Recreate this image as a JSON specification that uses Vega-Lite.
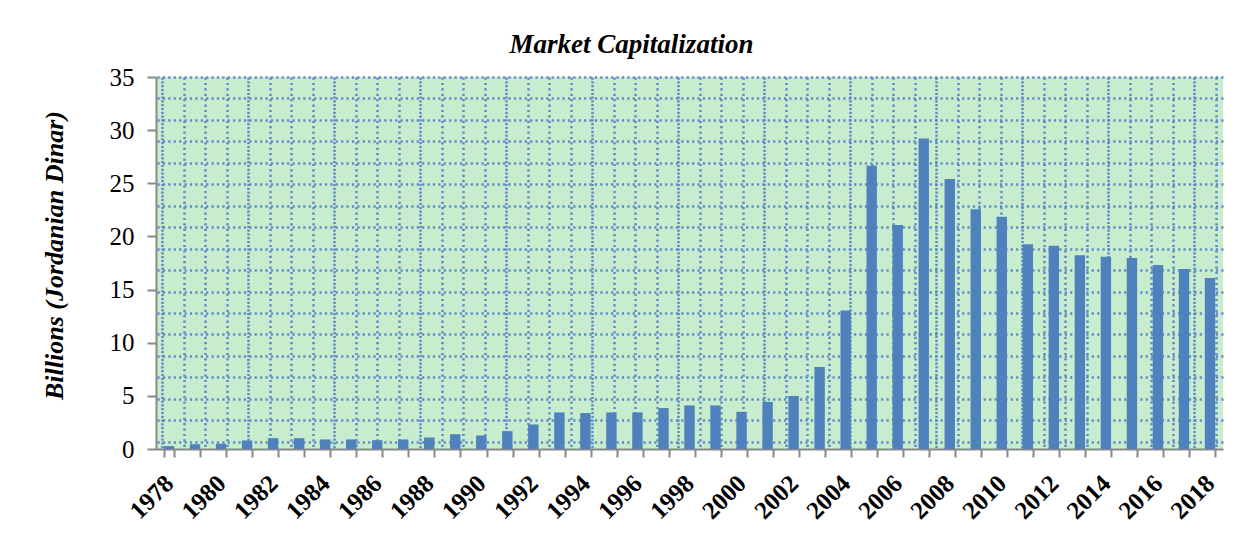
{
  "$schema": "https://vega.github.io/schema/vega-lite/v6.json",
  "autosize": {"type": "none"},
  "width": 1067,
  "height": 372,
  "padding": {"left": 156, "top": 77, "right": 26, "bottom": 91},
  "background": "white",
  "config": {
    "font": "Liberation Serif",
    "view": {"fill": "#C8EDCE", "stroke": null}
  },
  "title": {
    "text": "Market Capitalization",
    "font": "Liberation Serif",
    "fontSize": 27,
    "fontStyle": "italic",
    "fontWeight": "bold",
    "color": "black",
    "anchor": "middle",
    "frame": "group",
    "dx": -58,
    "dy": 40,
    "baseline": "alphabetic",
    "offset": 25
  },
  "data": {
    "values": [
      {"year": 1978, "cap": 0.27},
      {"year": 1979, "cap": 0.45},
      {"year": 1980, "cap": 0.49},
      {"year": 1981, "cap": 0.8},
      {"year": 1982, "cap": 1.02},
      {"year": 1983, "cap": 1.02},
      {"year": 1984, "cap": 0.9},
      {"year": 1985, "cap": 0.9},
      {"year": 1986, "cap": 0.83},
      {"year": 1987, "cap": 0.9},
      {"year": 1988, "cap": 1.08},
      {"year": 1989, "cap": 1.39},
      {"year": 1990, "cap": 1.27},
      {"year": 1991, "cap": 1.68},
      {"year": 1992, "cap": 2.31},
      {"year": 1993, "cap": 3.44},
      {"year": 1994, "cap": 3.38},
      {"year": 1995, "cap": 3.44},
      {"year": 1996, "cap": 3.44},
      {"year": 1997, "cap": 3.85},
      {"year": 1998, "cap": 4.1},
      {"year": 1999, "cap": 4.1},
      {"year": 2000, "cap": 3.5},
      {"year": 2001, "cap": 4.43},
      {"year": 2002, "cap": 4.99},
      {"year": 2003, "cap": 7.72},
      {"year": 2004, "cap": 13.02},
      {"year": 2005, "cap": 26.64},
      {"year": 2006, "cap": 21.07},
      {"year": 2007, "cap": 29.21},
      {"year": 2008, "cap": 25.41},
      {"year": 2009, "cap": 22.55},
      {"year": 2010, "cap": 21.84},
      {"year": 2011, "cap": 19.26},
      {"year": 2012, "cap": 19.12},
      {"year": 2013, "cap": 18.22},
      {"year": 2014, "cap": 18.08},
      {"year": 2015, "cap": 17.97},
      {"year": 2016, "cap": 17.31},
      {"year": 2017, "cap": 16.94},
      {"year": 2018, "cap": 16.1}
    ]
  },
  "layer": [
    {
      "mark": {"type": "point", "opacity": 0},
      "encoding": {
        "x": {
          "datum": 0,
          "type": "quantitative",
          "scale": {"domain": [-0.293, 49.34], "nice": false, "zero": false},
          "axis": {
            "orient": "top",
            "values": [0,1,2,3,4,5,6,7,8,9,10,11,12,13,14,15,16,17,18,19,20,21,22,23,24,25,26,27,28,29,30,31,32,33,34,35,36,37,38,39,40,41,42,43,44,45,46,47,48,49],
            "grid": true,
            "labels": false,
            "ticks": false,
            "domain": false,
            "title": null,
            "gridColor": "#5A85C6",
            "gridWidth": 2.5,
            "gridOpacity": 0.95,
            "gridDash": {"condition": {"test": "datum.value % 4 === 0", "value": [2.2, 1.6]}, "value": [2.2, 3.2]}
          }
        },
        "y": {
          "datum": 0,
          "type": "quantitative",
          "scale": {"domain": [0, 17.34], "reverse": true, "nice": false, "zero": false},
          "axis": {
            "orient": "right",
            "values": [0,1,2,3,4,5,6,7,8,9,10,11,12,13,14,15,16,17],
            "grid": true,
            "labels": false,
            "ticks": false,
            "domain": false,
            "title": null,
            "gridColor": "#5A85C6",
            "gridWidth": 2.5,
            "gridOpacity": 0.95,
            "gridDash": [2.2, 3.2]
          }
        }
      }
    },
    {
      "mark": {"type": "bar", "color": "#4F81BD"},
      "encoding": {
        "x": {
          "field": "year",
          "type": "ordinal",
          "scale": {"paddingInner": 0.6, "paddingOuter": 0.3},
          "axis": {
            "orient": "bottom",
            "title": null,
            "grid": false,
            "tickBand": "extent",
            "ticks": true,
            "tickSize": 8,
            "tickWidth": 2,
            "tickColor": "#888888",
            "domainColor": "#888888",
            "domainWidth": 2,
            "labelExpr": "datum.value % 2 === 0 ? datum.label : ''",
            "labelOverlap": false,
            "labelAngle": -45,
            "labelAlign": "right",
            "labelBaseline": "middle",
            "labelPadding": 22,
            "labelFont": "Liberation Serif",
            "labelFontSize": 25,
            "labelFontWeight": "bold",
            "labelColor": "black"
          }
        },
        "y": {
          "field": "cap",
          "type": "quantitative",
          "scale": {"domain": [0, 35], "nice": false},
          "axis": {
            "orient": "left",
            "values": [0, 5, 10, 15, 20, 25, 30, 35],
            "grid": false,
            "tickSize": 9,
            "tickWidth": 2,
            "tickColor": "#888888",
            "domainColor": "#888888",
            "domainWidth": 2,
            "labelPadding": 13,
            "labelFont": "Liberation Serif",
            "labelFontSize": 25,
            "labelColor": "black",
            "title": "Billions (Jordanian Dinar)",
            "titleFont": "Liberation Serif",
            "titleFontSize": 26,
            "titleFontWeight": "bold",
            "titleFontStyle": "italic",
            "titleColor": "black",
            "titleAngle": -90,
            "titleAlign": "center",
            "titleBaseline": "middle",
            "titleX": -102,
            "titleY": 178
          }
        }
      }
    }
  ],
  "resolve": {
    "scale": {"x": "independent", "y": "independent"},
    "axis": {"x": "independent", "y": "independent"}
  }
}
